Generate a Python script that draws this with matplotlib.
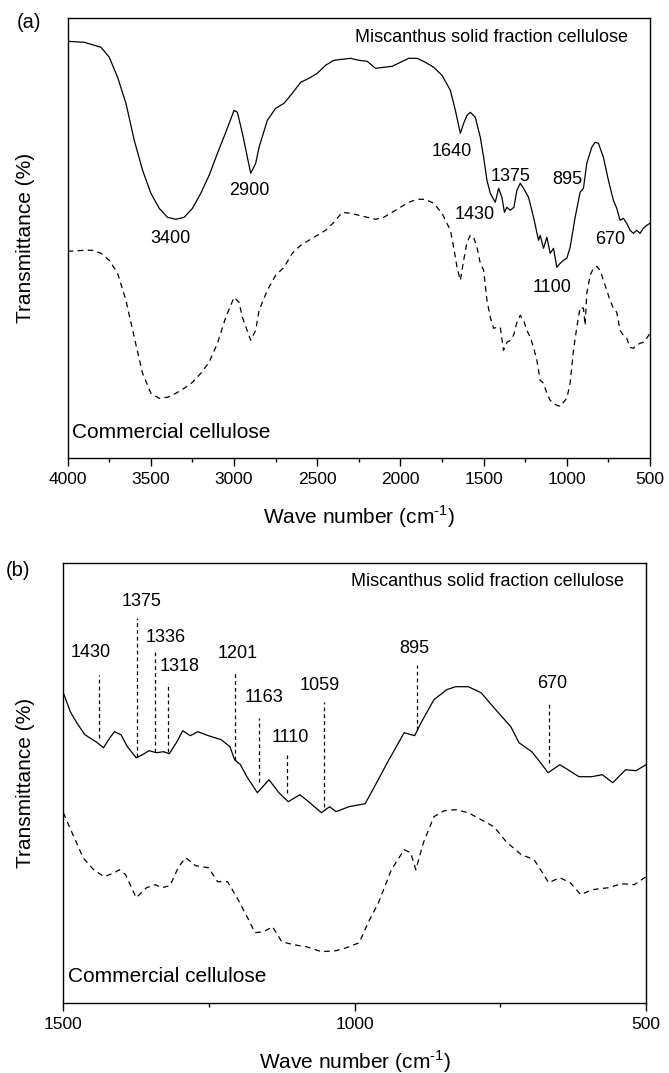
import matplotlib
matplotlib.use("Agg")
import matplotlib.pyplot as plt

plt.rcParams['font.family'] = ['Liberation Sans', 'DejaVu Sans']
plt.rcParams['mathtext.fontset'] = 'custom'
plt.rcParams['mathtext.rm'] = 'Liberation Sans'

# ---------------- Panel (a): full range ----------------
wn_a_misc = [4000, 3900, 3800, 3750, 3700, 3650, 3600, 3550, 3500, 3450, 3400, 3350, 3300,
             3250, 3200, 3150, 3100, 3050, 3000, 2980, 2950, 2900, 2870, 2850, 2800, 2750,
             2700, 2650, 2600, 2550, 2500, 2450, 2400, 2350, 2300, 2250, 2200, 2150, 2100,
             2050, 2000, 1950, 1900, 1850, 1800, 1750, 1700, 1670, 1640, 1620, 1600, 1580,
             1550, 1520, 1500, 1480, 1460, 1430, 1410, 1390, 1375, 1360, 1340, 1318, 1300,
             1280, 1260, 1230, 1200, 1170, 1160, 1140, 1120, 1100, 1080, 1060, 1040, 1020,
             1000, 980, 950, 920, 900, 880, 850, 830, 810, 780, 750, 720, 700, 680, 660,
             640, 620, 600, 580, 560, 540, 520, 500]
t_a_misc = [417, 416, 411, 401, 381, 355, 318, 288, 265, 250, 241, 239, 241,
            250, 265, 283, 305, 326, 348, 346, 325, 285, 295, 311, 338, 350,
            355, 365, 376, 380, 385, 393, 398, 399, 400, 398, 397, 390, 391,
            392, 396, 400, 400, 396, 391, 383, 368, 348, 325, 335, 343, 346,
            341, 321, 301, 278, 265, 256, 270, 261, 246, 251, 248, 251, 268,
            275, 270, 261, 241, 218, 223, 210, 221, 205, 210, 191, 195, 198,
            200, 211, 241, 266, 270, 295, 311, 316, 315, 301, 278, 258, 250, 238, 240,
            235, 228, 225, 228, 225, 230, 233, 235]

wn_a_comm = [4000, 3900, 3850, 3800, 3750, 3700, 3650, 3600, 3550, 3500, 3450, 3400, 3350,
             3300, 3250, 3200, 3150, 3100, 3050, 3000, 2970, 2950, 2900, 2870, 2850, 2800,
             2750, 2700, 2650, 2600, 2550, 2500, 2450, 2400, 2350, 2300, 2250, 2200, 2150,
             2100, 2050, 2000, 1950, 1900, 1870, 1850, 1800, 1750, 1700, 1680, 1660, 1640,
             1620, 1600, 1580, 1560, 1540, 1520, 1500, 1480, 1460, 1440, 1420, 1400, 1380,
             1360, 1340, 1320, 1300, 1280, 1260, 1240, 1220, 1200, 1180, 1160, 1140, 1120,
             1100, 1080, 1060, 1040, 1020, 1000, 980, 960, 940, 920, 900, 890, 880, 860,
             840, 820, 800, 780, 760, 740, 720, 700, 680, 660, 640, 620, 600, 580, 560,
             540, 520, 500]
t_a_comm = [207, 208, 208, 205, 198, 185, 158, 121, 85, 65, 60, 61, 65,
            70, 76, 85, 96, 115, 141, 161, 156, 141, 118, 128, 148, 168,
            183, 191, 205, 213, 218, 223, 228, 236, 246, 245, 243, 241, 239,
            241, 246, 251, 256, 259, 259, 259, 255, 245, 228, 211, 191, 178,
            198, 216, 223, 221, 211, 195, 188, 158, 141, 130, 131, 131, 108,
            116, 118, 123, 136, 143, 138, 128, 121, 111, 98, 78, 75, 65,
            58, 55, 53, 52, 56, 60, 75, 108, 131, 151, 150, 133, 165, 183,
            190, 192, 188, 178, 168, 158, 150, 146, 128, 123, 120, 111, 110, 113, 115,
            116, 120, 125]

# peak labels, panel (a): text, wavenumber, height
peaks_a_text = ["3400", "2900", "1640", "1375", "895", "1430", "670", "1100"]
peaks_a_x = [3383, 2910, 1690, 1337, 999, 1552, 738, 1091]
peaks_a_y = [220, 268, 307, 282, 279, 244, 219, 171]

# ---------------- Panel (b): fingerprint region ----------------
wn_b_misc = [1500, 1488, 1477, 1463, 1444, 1431, 1420, 1412, 1401, 1390, 1375, 1364, 1353,
             1340, 1328, 1318, 1306, 1295, 1282, 1269, 1251, 1229, 1214, 1206, 1196, 1185,
             1167, 1147, 1130, 1114, 1094, 1079, 1057, 1043, 1032, 1010, 982, 966, 944,
             915, 897, 886, 864, 842, 827, 805, 783, 758, 732, 718, 696, 681, 668, 648,
             634, 615, 593, 575, 557, 535, 517, 500]
t_b_misc = [310, 291, 280, 268, 261, 255, 265, 271, 268, 256, 245, 248, 252,
            250, 251, 249, 260, 272, 267, 271, 267, 263, 256, 243, 238, 226,
            210, 223, 210, 201, 208, 201, 190, 196, 191, 196, 199, 216, 240,
            270, 267, 280, 303, 313, 316, 316, 310, 293, 276, 260, 251, 240, 230, 238,
            233, 226, 226, 228, 220, 233, 232, 238]

wn_b_comm = [1500, 1485, 1466, 1448, 1430, 1412, 1404, 1393, 1375, 1357, 1342, 1331, 1317,
             1302, 1290, 1273, 1251, 1235, 1218, 1200, 1182, 1171, 1156, 1141, 1125, 1105,
             1083, 1057, 1032, 1014, 992, 977, 959, 937, 915, 904, 895, 882, 864, 846,
             827, 805, 783, 761, 740, 714, 692, 681, 667, 648, 630, 612, 593, 564, 542,
             520, 500]
t_b_comm = [190, 170, 145, 133, 126, 130, 133, 128, 105, 115, 118, 115, 117,
            136, 145, 137, 135, 121, 121, 103, 83, 70, 71, 76, 61, 58,
            56, 51, 52, 55, 60, 80, 100, 133, 153, 150, 133, 160, 186, 192,
            193, 190, 183, 176, 161, 148, 143, 133, 120, 125, 120, 108, 113, 115, 119,
            118, 126]

# marker lines, panel (b): text, line position, line bottom, line top, label x, label y
marks_b_text = ["1430", "1375", "1336", "1318", "1201", "1163", "1110", "1059", "895", "670"]
marks_b_x = [1439, 1373, 1342, 1320, 1206, 1165, 1116, 1052, 893, 667]
marks_b_lo = [265, 246, 251, 251, 243, 221, 210, 196, 273, 240]
marks_b_hi = [328, 385, 353, 320, 330, 285, 248, 301, 338, 301]
marks_b_lx = [1453, 1366, 1324, 1301, 1200, 1156, 1110, 1060, 897, 661]
marks_b_ly = [350, 401, 365, 336, 349, 305, 265, 317, 354, 319]

label_misc = "Miscanthus solid fraction cellulose"
label_comm = "Commercial cellulose"
xlabel = "Wave number (cm$^{\\text{-1}}$)"
ylabel = "Transmittance (%)"

W, H = 669, 1073
fig = plt.figure(figsize=(W / 100, H / 100), dpi=100)

ax_a = fig.add_axes([67.7 / W, 1 - 458.3 / H, 582.3 / W, 440 / H])
ax_b = fig.add_axes([63.3 / W, 1 - 1002.7 / H, 582.7 / W, 440 / H])

line_kw = dict(color="black", lw=0.9)
dash_kw = dict(color="black", lw=0.9, linestyle=(0, (4.5, 3.5)))

ax_a.plot(wn_a_misc, t_a_misc, **line_kw)
ax_a.plot(wn_a_comm, t_a_comm, **dash_kw)
for s, x, y in zip(peaks_a_text, peaks_a_x, peaks_a_y):
    ax_a.text(x, y, s, ha="center", va="center", fontsize=13)

ax_b.plot(wn_b_misc, t_b_misc, **line_kw)
ax_b.plot(wn_b_comm, t_b_comm, **dash_kw)
for s, x, lo, hi, lx, ly in zip(marks_b_text, marks_b_x, marks_b_lo, marks_b_hi,
                                marks_b_lx, marks_b_ly):
    ax_b.vlines(x, lo, hi, colors="black", lw=0.9, linestyles=(0, (3, 2.5)))
    ax_b.text(lx, ly, s, ha="center", va="center", fontsize=13)

for ax, xmin, xmax, majors, minors, ylx in [
        (ax_a, 4000, 500, [4000, 3500, 3000, 2500, 2000, 1500, 1000, 500],
         [3750, 3250, 2750, 2250, 1750, 1250, 750], -0.0733),
        (ax_b, 1500, 500, [1500, 1000, 500], [1250, 750], -0.0657)]:
    ax.set_xlim(xmin, xmax)
    ax.set_ylim(0, 440)
    ax.set_xticks(majors)
    ax.set_xticks(minors, minor=True)
    ax.set_xticklabels([str(v) for v in majors])
    ax.set_yticks([])
    ax.tick_params(axis="x", which="major", direction="out", length=6, width=1.0,
                   labelsize=12.5, pad=4)
    ax.tick_params(axis="x", which="minor", direction="out", length=3, width=1.0)
    for sp in ax.spines.values():
        sp.set_linewidth(1.0)
    ax.set_xlabel(xlabel, fontsize=15)
    ax.xaxis.label.set_va("center")
    ax.xaxis.set_label_coords(0.5, -0.133)
    ax.set_ylabel(ylabel, fontsize=15)
    ax.yaxis.label.set_va("center")
    ax.yaxis.set_label_coords(ylx, 0.5)
    ax.text(0.962, 0.957, label_misc, transform=ax.transAxes, ha="right", va="center",
            fontsize=13)
    ax.text(0.008, 0.059, label_comm, transform=ax.transAxes, ha="left", va="center",
            fontsize=15)

fig.text(17 / W, 1 - 23 / H, "(a)", ha="left", va="center", fontsize=14.5)
fig.text(6 / W, 1 - 570 / H, "(b)", ha="left", va="center", fontsize=14.5)

fig.savefig("out.png", dpi=100)
